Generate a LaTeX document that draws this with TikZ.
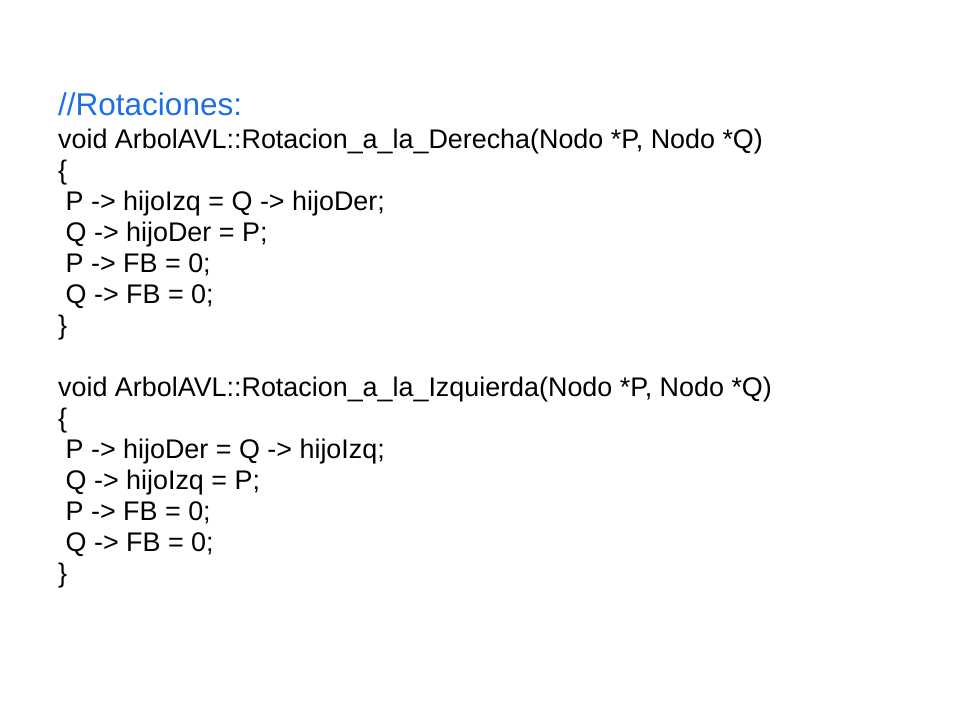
\documentclass[tikz,border=0pt]{standalone}
\usepackage{fontspec}
\setmainfont{Liberation Sans}
\definecolor{titleblue}{RGB}{30,110,230}
\begin{document}
\begin{tikzpicture}[x=1pt,y=-1pt,
  code/.style={anchor=base west,inner sep=0pt,font=\fontsize{26.9}{30}\selectfont}]
\useasboundingbox (0,0) rectangle (960,720);
\node[code,text=titleblue,font=\fontsize{31.5}{36}\selectfont] (t) at (58,115) {//Rotaciones:};
\node[code] (l1) at (58,148) {void ArbolAVL::Rotacion\_a\_la\_Derecha(Nodo *P, Nodo *Q)};
\node[code] (l2) at (58,179) {\{};
\node[code] (l3) at (58,210) {\ P -> hijoIzq = Q -> hijoDer;};
\node[code] (l4) at (58,241) {\ Q -> hijoDer = P;};
\node[code] (l5) at (58,272) {\ P -> FB = 0;};
\node[code] (l6) at (58,303) {\ Q -> FB = 0;};
\node[code] (l7) at (58,334) {\}};
\node[code] (m1) at (58,396) {void ArbolAVL::Rotacion\_a\_la\_Izquierda(Nodo *P, Nodo *Q)};
\node[code] (m2) at (58,427) {\{};
\node[code] (m3) at (58,458) {\ P -> hijoDer = Q -> hijoIzq;};
\node[code] (m4) at (58,489) {\ Q -> hijoIzq = P;};
\node[code] (m5) at (58,520) {\ P -> FB = 0;};
\node[code] (m6) at (58,551) {\ Q -> FB = 0;};
\node[code] (m7) at (58,582) {\}};
\end{tikzpicture}
\end{document}
